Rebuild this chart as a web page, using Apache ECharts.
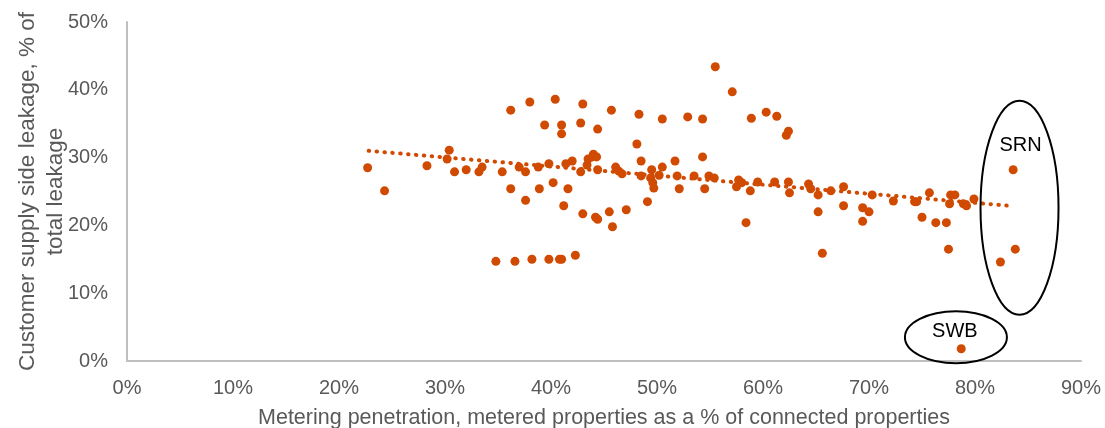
<!DOCTYPE html>
<html>
<head>
<meta charset="utf-8">
<script src="https://cdn.jsdelivr.net/npm/echarts@6/dist/echarts.min.js"></script>
<style>
  html, body { margin: 0; padding: 0; background: #fff; }
  #main { width: 1105px; height: 428px; }
</style>
</head>
<body>
<div id="main"></div>
<script>
// metering penetration (%) and supply side leakage share (%) per company/year
var meterPct = [
    22.7, 24.3, 28.3, 30.2, 30.4, 30.9, 32.0, 33.2, 33.5, 34.8,
    35.4, 36.2, 36.2, 36.6, 37.0, 37.6, 37.6, 38.0, 38.2, 38.8,
    38.9, 39.4, 39.8, 39.8, 40.2, 40.4, 40.8, 41.0, 41.0, 41.0,
    41.2, 41.4, 41.6, 42.0, 42.3, 42.8, 42.8, 43.0, 43.0, 43.4,
    43.5, 44.0, 43.9, 44.3, 44.4, 44.4, 44.2, 44.4, 45.5, 45.7,
    45.8, 46.1, 46.4, 46.7, 47.1, 48.1, 48.3, 48.5, 48.5, 49.1,
    49.5, 49.4, 49.6, 49.7, 50.2, 50.5, 50.5, 51.7, 51.9, 52.1,
    52.9, 53.5, 54.3, 54.3, 54.5, 54.9, 55.4, 55.5, 57.1, 57.7,
    58.0, 57.5, 58.8, 58.4, 58.9, 59.5, 60.3, 61.1, 61.3, 62.2,
    62.4, 62.4, 62.5, 64.3, 64.5, 65.2, 65.2, 65.6, 66.4, 67.6,
    67.6, 69.4, 70.0, 69.4, 70.3, 72.3, 74.3, 74.5, 75.7, 75.0,
    76.3, 77.3, 77.5, 77.7, 78.1, 77.6, 78.9, 79.2, 79.9, 78.7,
    83.6, 83.8, 82.4
];
var leakPct = [
    28.5, 25.1, 28.8, 29.8, 31.1, 27.9, 28.2, 27.9, 28.6, 14.7,
    27.9, 37.0, 25.4, 14.7, 28.6, 23.7, 27.9, 38.2, 15.0, 28.6,
    25.4, 34.8, 29.1, 15.0, 26.3, 38.6, 15.0, 15.0, 34.8, 33.5,
    22.9, 29.1, 25.4, 29.5, 15.6, 35.1, 27.9, 37.9, 21.7, 28.9,
    29.8, 30.5, 30.1, 30.1, 28.2, 34.2, 21.2, 20.9, 22.0, 37.0,
    19.8, 28.6, 28.0, 27.6, 22.3, 32.0, 36.4, 29.5, 27.3, 23.5,
    28.2, 27.0, 26.3, 25.5, 27.4, 28.6, 35.7, 29.5, 27.3, 25.4,
    36.0, 27.3, 30.1, 35.7, 25.4, 27.3, 27.0, 43.4, 39.7, 26.7,
    26.3, 25.7, 25.1, 20.4, 35.8, 26.4, 36.7, 26.4, 36.1, 33.3,
    33.9, 26.4, 24.8, 26.1, 25.4, 24.5, 22.0, 15.9, 25.1, 25.7,
    22.9, 22.6, 22.0, 20.6, 24.5, 23.6, 23.5, 23.5, 24.8, 21.2,
    20.4, 20.4, 16.5, 24.5, 24.5, 23.2, 23.2, 22.9, 23.9, 1.8,
    28.2, 16.5, 14.6
];
// dotted linear trendline, end points
var trendX = [22.8, 83.2];
var trendY = [31.0, 22.9];

var xTicks = [0, 10, 20, 30, 40, 50, 60, 70, 80, 90];
var yTicks = [0, 10, 20, 30, 40, 50];

// call-outs: label, label position, ellipse centre (data units)
var calloutNames = ['SRN', 'SWB'];
var calloutLabelPos = [[84.3, 31.8], [78.1, 4.3]];
var calloutCentre = [[84.2, 22.6], [78.2, 3.5]];

var orange = '#D04A02';
var greyText = '#595959';

var pts = [];
for (var i = 0; i < meterPct.length; i++) {
    pts.push([meterPct[i], leakPct[i]]);
}
var trend = [];
for (var k = 0; k < trendX.length; k++) {
    trend.push([trendX[k], trendY[k]]);
}

var chart = echarts.init(document.getElementById('main'));
var option = {
    backgroundColor: '#fff',
    animation: false,
    grid: {
        left: 127,
        right: 24,
        top: 22,
        bottom: 67,
        containLabel: false,
        outerBoundsMode: 'none'
    },
    xAxis: {
        type: 'value',
        min: xTicks[0],
        max: xTicks[xTicks.length - 1],
        interval: 10,
        name: 'Metering penetration, metered properties as a % of connected properties',
        nameLocation: 'middle',
        nameGap: 46,
        nameMoveOverlap: false,
        nameTextStyle: {
            color: greyText,
            fontSize: 21.5,
            fontFamily: 'Liberation Sans'
        },
        axisLine: { lineStyle: { color: '#BFBFBF', width: 2 } },
        axisTick: { show: false },
        splitLine: { show: false },
        axisLabel: {
            formatter: '{value}%',
            color: greyText,
            fontSize: 20,
            fontFamily: 'Liberation Sans',
            margin: 17
        }
    },
    yAxis: {
        type: 'value',
        min: yTicks[0],
        max: yTicks[yTicks.length - 1],
        interval: 10,
        name: 'Customer supply side leakage, % of\ntotal leakage',
        nameLocation: 'middle',
        nameGap: 57,
        nameMoveOverlap: false,
        nameRotate: 90,
        nameTextStyle: {
            color: greyText,
            fontSize: 22.5,
            lineHeight: 28,
            fontFamily: 'Liberation Sans',
            align: 'center'
        },
        axisLine: { show: true, lineStyle: { color: '#BFBFBF', width: 2 } },
        axisTick: { show: false },
        splitLine: { show: false },
        axisLabel: {
            formatter: '{value}%',
            color: greyText,
            fontSize: 20,
            fontFamily: 'Liberation Sans',
            margin: 19
        }
    },
    series: [
        {
            name: 'companies',
            type: 'scatter',
            symbolSize: 9,
            itemStyle: { color: orange, opacity: 1 },
            data: pts,
            z: 3
        },
        {
            name: 'trend',
            type: 'line',
            showSymbol: false,
            symbol: 'none',
            lineStyle: {
                color: orange,
                width: 4,
                type: [0.5, 7.4],
                cap: 'round'
            },
            data: trend,
            z: 2
        }
    ]
};
chart.setOption(option);

// ellipses + labels placed from data coordinates
var ellipseR = [[39, 107], [51, 26]];
var graphics = [];
for (var j = 0; j < calloutNames.length; j++) {
    var c = chart.convertToPixel({ gridIndex: 0 }, calloutCentre[j]);
    var lp = chart.convertToPixel({ gridIndex: 0 }, calloutLabelPos[j]);
    graphics.push({
        type: 'ellipse',
        shape: { cx: c[0], cy: c[1], rx: ellipseR[j][0], ry: ellipseR[j][1] },
        style: { fill: 'none', stroke: '#000', lineWidth: 2 },
        z: 10
    });
    graphics.push({
        type: 'text',
        x: lp[0],
        y: lp[1],
        style: {
            text: calloutNames[j],
            fill: '#000',
            font: '20px "Liberation Sans"',
            textAlign: 'center',
            textVerticalAlign: 'middle'
        },
        z: 11
    });
}
chart.setOption({ graphic: graphics });
</script>
</body>
</html>
